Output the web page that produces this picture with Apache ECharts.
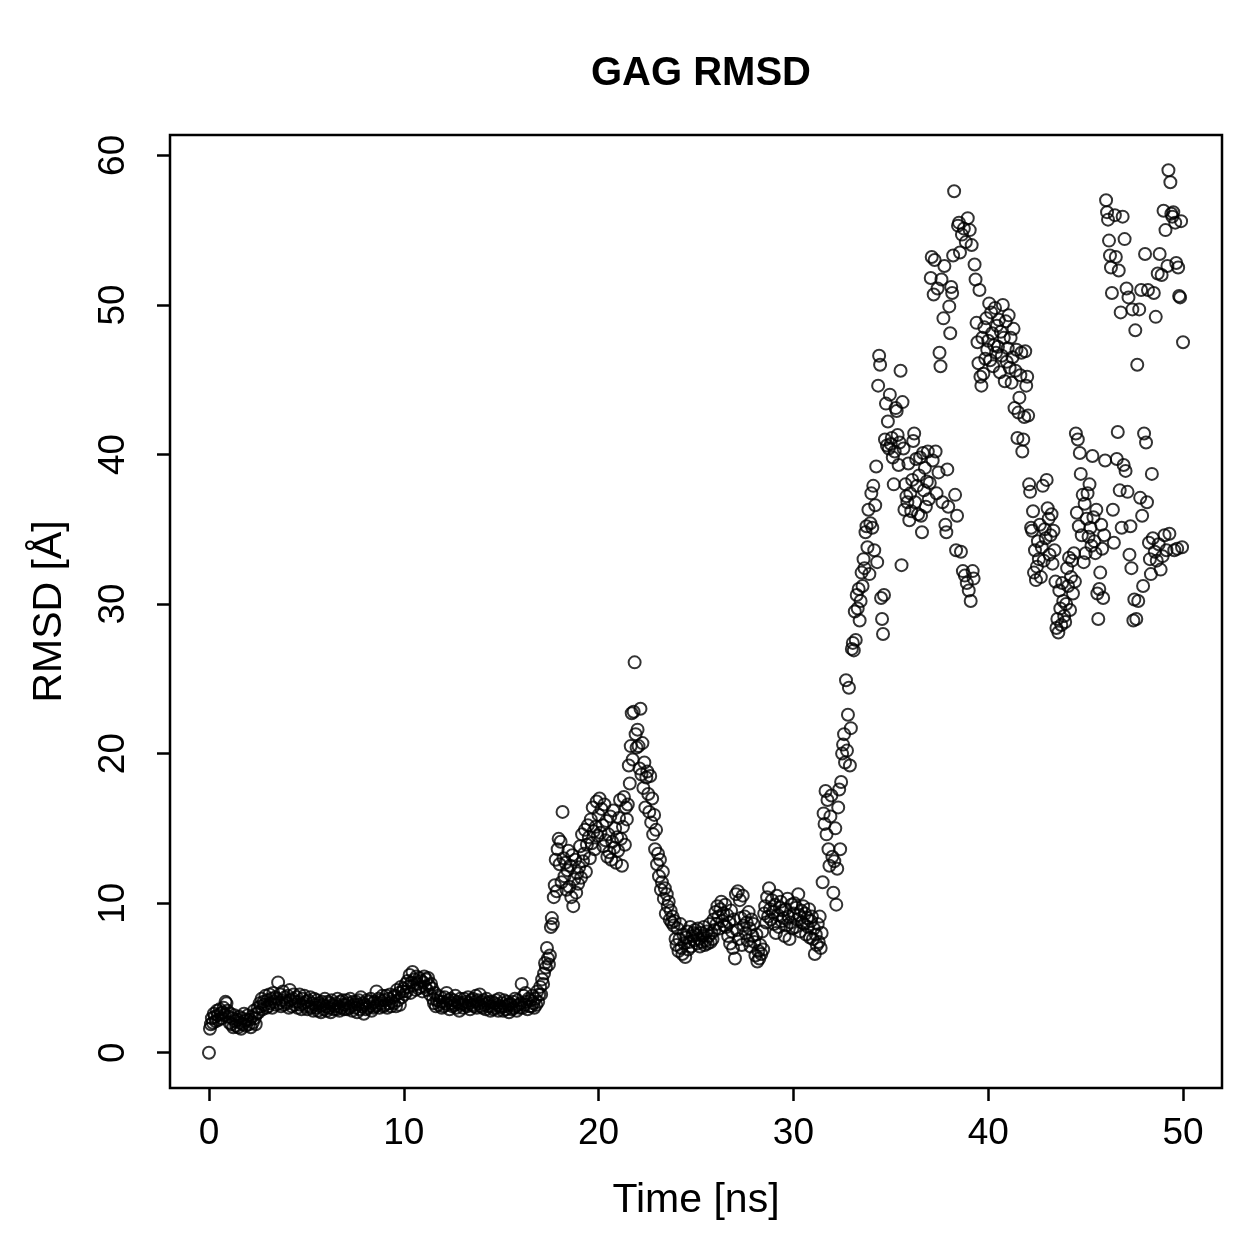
<!DOCTYPE html>
<html>
<head>
<meta charset="utf-8">
<script src="https://cdn.jsdelivr.net/npm/echarts@6/dist/echarts.min.js"></script>
<style>
  html, body { margin: 0; padding: 0; background: #fff; }
  #main { width: 1259px; height: 1259px; }
</style>
</head>
<body>
<div id="main"></div>
<script>
// RMSD values, one every 0.05 ns
var dt = 0.05;
var rmsd0 = [
  0.0, 1.6, 1.9, 2.3, 2.0, 2.6, 2.4, 2.1, 2.8, 2.5,
  2.2, 2.9, 2.6, 2.3, 2.7, 3.0, 2.5, 3.4, 3.3, 2.8,
  2.4, 2.0, 2.6, 1.9, 2.3, 1.7, 2.5, 2.1, 1.8, 2.2,
  1.7, 2.4, 2.0, 1.6, 2.3, 1.9, 2.6, 2.1, 1.8, 2.2,
  2.5, 1.9, 2.2, 1.7, 2.4, 2.0, 2.8, 2.3, 1.9, 2.6,
  3.0, 2.7, 3.3, 3.1, 3.6, 2.9, 3.4, 3.2, 3.8, 3.0,
  3.5, 3.1, 3.9, 3.3, 3.6, 3.0, 4.0, 3.4, 3.7, 3.2,
  3.6, 4.7, 3.3, 3.9, 3.1, 3.5, 4.1, 3.2, 3.7, 3.4,
  3.3, 3.8, 3.0, 4.2, 3.5, 3.1, 3.6, 3.9, 3.2, 3.4,
  3.7, 3.0, 3.4, 3.9, 3.2, 2.9, 3.6, 3.3, 3.8, 3.1,
  3.4, 2.9, 3.5, 3.1, 3.7, 3.0, 3.3, 2.8, 3.6, 3.2,
  3.0, 3.5, 2.8, 3.3, 3.1, 2.7, 3.4, 3.2, 2.9, 3.6,
  3.1, 2.8, 3.4, 3.0, 3.3, 2.7, 3.5, 3.2, 2.9, 3.1,
  3.3, 2.9, 3.6, 3.1, 2.8, 3.4, 3.0, 3.5, 3.2, 2.9,
  3.2, 3.5, 2.9, 3.3, 3.0, 3.6, 3.1, 2.8, 3.4, 3.2,
  3.0, 3.4, 2.7, 3.2, 3.5, 2.9, 3.7, 3.1, 3.3, 2.6,
  3.2, 2.9, 3.5, 3.0, 3.4, 3.1, 3.6, 2.8, 3.3, 3.0,
  3.4, 3.1, 4.1, 3.2, 3.6, 3.0, 3.5, 3.3, 3.8, 3.1,
  3.5, 3.2, 3.8, 3.0, 3.6, 3.3, 3.9, 3.1, 3.4, 3.7,
  3.3, 3.8, 3.1, 4.2, 3.5, 4.0, 3.2, 4.4, 3.7, 4.1
];
var rmsd10 = [
  4.3, 3.9, 4.6, 4.1, 4.8, 4.4, 5.2, 4.0, 4.7, 5.4,
  4.5, 4.9, 4.2, 5.1, 4.6, 4.3, 5.0, 4.4, 4.8, 4.1,
  4.7, 5.1, 4.4, 4.9, 4.2, 5.0, 4.5, 3.9, 4.6, 4.3,
  3.6, 3.3, 4.0, 3.1, 3.5, 3.8, 3.2, 3.4, 3.7, 3.0,
  3.4, 3.1, 3.7, 3.3, 4.0, 3.2, 3.5, 2.9, 3.6, 3.3,
  3.1, 3.5, 3.2, 3.8, 3.0, 3.4, 3.3, 2.8, 3.6, 3.2,
  3.3, 3.0, 3.6, 3.2, 3.4, 3.1, 3.7, 3.3, 2.9, 3.5,
  3.2, 3.6, 3.1, 3.4, 3.8, 3.0, 3.5, 3.3, 3.9, 3.1,
  3.4, 3.0, 3.5, 3.2, 2.9, 3.6, 3.3, 3.1, 3.4, 2.8,
  3.1, 3.4, 2.9, 3.3, 3.0, 3.5, 3.2, 2.8, 3.6, 3.1,
  3.0, 3.3, 2.8, 3.5, 3.1, 2.9, 3.4, 3.2, 2.7, 3.3,
  3.2, 2.9, 3.4, 3.0, 3.6, 3.1, 2.8, 3.5, 3.2, 3.0,
  3.3, 4.6, 3.0, 3.8, 3.2, 4.0, 3.4, 2.9, 3.6, 3.1,
  3.5, 3.1, 3.8, 3.3, 3.0, 3.6, 3.2, 4.1, 3.4, 3.9,
  4.4, 3.9, 4.9, 4.6, 5.3, 6.0, 5.7, 7.0, 6.3, 5.9,
  6.5, 8.4, 9.0, 8.6, 10.4, 11.2, 12.9, 10.8, 13.6, 14.3,
  12.6, 14.1, 11.4, 16.1, 13.0, 11.8, 12.7, 10.9, 12.2, 13.5,
  11.1, 12.5, 10.4, 13.2, 9.8, 11.6, 12.9, 10.7, 12.0, 11.3,
  12.4, 13.8, 11.7, 14.6, 12.8, 13.3, 14.9, 12.1, 13.9, 15.2,
  14.4, 13.0, 15.6, 14.0, 16.4, 14.8, 13.6, 15.1, 16.8, 14.5
];
var rmsd20 = [
  15.9, 17.0, 14.7, 16.3, 15.2, 13.8, 16.6, 14.2, 15.5, 13.1,
  14.6, 13.4, 15.8, 12.9, 14.1, 16.2, 13.7, 15.0, 12.7, 14.4,
  13.5, 15.7, 16.9, 14.3, 12.5, 15.1, 17.1, 13.9, 16.4, 15.6,
  16.6, 19.2, 18.0, 20.5, 22.7, 19.6, 22.8, 26.1, 21.3, 20.4,
  21.6, 20.5, 19.0, 23.0, 18.6, 20.7, 17.7, 19.4, 16.4, 18.4,
  18.8, 17.3, 16.1, 18.5, 15.4, 17.0, 14.6, 15.9, 13.6, 14.9,
  12.6, 13.3, 11.8, 12.9, 10.9, 11.4, 12.1, 10.3, 11.0, 9.3,
  10.6, 9.8, 10.1, 8.9, 9.5, 8.7, 9.1, 8.5, 8.8, 7.6,
  7.2, 8.3, 6.8, 7.6, 8.6, 7.0, 6.6, 7.9, 7.3, 6.4,
  7.7, 8.1, 6.9, 7.4, 8.4, 7.1, 7.8, 8.0, 7.5, 8.2,
  7.9, 7.3, 8.3, 7.6, 7.1, 8.0, 7.4, 7.8, 8.4, 7.2,
  7.5, 8.1, 7.3, 7.8, 8.6, 7.4, 8.0, 7.6, 8.9, 8.2,
  9.4, 8.6, 9.8, 9.1, 8.3, 9.6, 10.1, 8.8, 9.3, 8.5,
  9.9, 8.4, 9.2, 7.8, 8.7, 7.3, 9.5, 8.1, 7.0, 8.9,
  6.3, 10.6, 8.2, 10.8, 7.6, 10.2, 9.0, 7.2, 10.5, 8.5,
  9.1, 8.0, 8.7, 7.5, 9.4, 8.3, 7.1, 8.9, 7.8, 8.6,
  7.4, 6.5, 7.9, 6.1, 6.8, 6.3, 7.2, 6.6, 8.1, 6.9,
  9.3, 9.8, 8.7, 10.4, 9.1, 11.0, 9.6, 8.9, 10.2, 9.4,
  8.6, 9.9, 8.0, 10.5, 9.2, 8.4, 9.7, 10.1, 8.8, 9.5,
  9.0, 7.8, 9.6, 8.5, 10.3, 9.1, 7.6, 8.7, 9.9, 8.3
];
var rmsd30 = [
  9.3, 10.0, 8.4, 9.7, 8.9, 10.6, 9.2, 8.1, 9.5, 8.7,
  9.8, 8.6, 9.3, 7.9, 9.0, 8.4, 9.6, 7.7, 8.8, 9.1,
  7.6, 8.3, 6.6, 7.9, 7.2, 8.6, 7.4, 9.1, 7.0, 8.0,
  11.4, 16.0, 15.3, 17.5, 14.6, 16.9, 13.6, 12.5, 15.8, 17.2,
  13.1, 10.7, 12.8, 15.0, 9.9, 12.3, 16.4, 17.6, 13.6, 18.1,
  20.0, 20.6, 21.3, 19.4, 24.9, 20.2, 22.6, 24.4, 19.2, 21.7,
  27.0, 27.4, 26.9, 29.5, 27.6, 30.6, 29.7, 31.0, 28.9, 30.2,
  32.1, 31.2, 33.0, 32.4, 34.8, 35.2, 33.8, 36.3, 32.0, 35.4,
  37.4, 35.1, 37.9, 33.6, 36.6, 39.2, 32.8, 44.6, 46.6, 46.0,
  30.4, 29.0, 28.0, 30.6, 41.0, 43.4, 40.6, 42.2, 40.4, 44.0,
  40.7, 41.1, 39.8, 38.0, 40.2, 43.1, 42.9, 41.3, 39.3, 40.8,
  45.6, 32.6, 43.5, 40.4, 36.3, 38.0, 37.2, 36.8, 39.4, 35.6,
  37.4, 36.2, 38.3, 40.9, 41.4, 36.8, 39.7, 37.9, 36.0, 38.6,
  39.8, 35.9, 34.8, 40.1, 37.6, 39.1, 36.5, 38.2, 40.2, 37.0,
  38.1, 51.8, 53.2, 39.6, 50.7, 53.0, 40.2, 37.4, 51.1, 38.8,
  46.8, 45.9, 51.7, 36.8, 49.1, 52.6, 35.3, 34.8, 39.0, 36.5,
  49.9, 48.1, 51.2, 50.8, 53.3, 57.6, 37.3, 33.6, 35.9, 55.3,
  55.5, 53.5, 33.5, 54.7, 32.2, 55.1, 31.9, 54.2, 31.4, 55.8,
  30.9, 55.0, 30.2, 54.0, 32.2, 31.7, 52.7, 51.7, 48.8, 47.5,
  46.1, 51.0, 45.2, 44.6, 47.8, 45.4, 48.5, 46.4, 49.1, 47.0
];
var rmsd40 = [
  47.6, 50.1, 46.3, 49.5, 48.1, 45.9, 47.3, 49.8, 46.8, 48.6,
  47.2, 49.0, 45.5, 48.2, 46.6, 50.0, 47.8, 44.9, 48.9, 46.2,
  47.1, 49.3, 45.8, 47.8, 44.8, 46.5, 48.4, 43.1, 45.6, 47.0,
  41.1, 42.8, 43.8, 45.3, 46.8, 40.2, 41.0, 42.5, 46.9, 44.6,
  45.2, 42.6, 38.0, 37.5, 35.1, 34.9, 36.2, 32.1, 33.6, 31.6,
  32.5, 34.2, 33.0, 35.3, 31.8, 33.8, 37.9, 32.9, 35.0, 34.4,
  38.3, 36.4, 35.7, 33.3, 34.6, 36.0, 32.7, 34.9, 33.6, 31.5,
  28.4, 29.0, 28.1, 30.9, 29.7, 28.6, 31.4, 30.2, 29.2, 28.8,
  30.0, 32.4, 31.2, 33.1, 29.6, 31.8, 32.9, 30.7, 33.4, 31.5,
  41.4, 36.1, 41.0, 35.2, 40.1, 38.7, 34.6, 37.3, 32.8, 36.7,
  33.4, 35.7, 37.4, 34.5, 38.0, 35.1, 33.9, 39.9, 35.8, 34.2,
  33.4, 36.3, 30.7, 29.0, 31.0, 32.1, 35.3, 33.7, 30.4, 34.6,
  39.6, 57.0, 56.2, 55.7, 54.3, 53.3, 52.5, 50.8, 36.3, 34.1,
  56.0, 53.2, 39.7, 41.5, 52.3, 37.6, 49.5, 35.1, 55.9, 39.3,
  54.4, 38.9, 51.1, 37.5, 50.5, 33.3, 35.2, 32.4, 49.7, 28.9,
  30.3, 48.3, 29.0, 46.0, 30.2, 49.7, 37.1, 51.0, 35.9, 31.2,
  41.4, 53.4, 40.8, 36.8, 51.0, 34.1, 33.0, 32.0, 38.7, 34.4,
  50.8, 33.5, 49.2, 32.9, 52.1, 34.0, 53.4, 32.3, 52.0, 33.2,
  56.3, 34.6, 55.0, 33.6, 52.6, 59.0, 34.7, 58.2, 56.1, 55.9,
  56.2, 33.6, 55.5, 52.8, 33.7, 52.5, 50.6, 50.5, 55.6, 33.8,
  47.5
];
var xTicks = [0, 10, 20, 30, 40, 50];
var yTicks = [0, 10, 20, 30, 40, 50, 60];

var rmsd = [].concat(rmsd0, rmsd10, rmsd20, rmsd30, rmsd40);
var points = [];
for (var i = 0; i < rmsd.length; i++) {
  points.push([Math.round(i * dt * 100) / 100, rmsd[i]]);
}

var chartDom = document.getElementById('main');
var myChart = echarts.init(chartDom);
var font = 'Liberation Sans, Arial, Helvetica, sans-serif';

var option = {
  backgroundColor: '#fff',
  animation: false,
  title: {
    text: 'GAG RMSD',
    left: 696,
    top: 49,
    textAlign: 'center',
    textStyle: { fontFamily: font, fontSize: 40, fontWeight: 'bold', color: '#000' }
  },
  grid: {
    left: 170, right: 37, top: 135, bottom: 171,
    show: true, borderColor: '#000', borderWidth: 2.5, backgroundColor: 'transparent'
  },
  xAxis: {
    type: 'value', min: -2, max: 52,
    name: 'Time [ns]', nameLocation: 'middle', nameGap: 92,
    nameTextStyle: { fontFamily: font, fontSize: 41, color: '#000' },
    axisLine: { show: false, onZero: false },
    axisTick: { show: true, length: 13, customValues: xTicks, lineStyle: { color: '#000', width: 2.5 } },
    axisLabel: { customValues: xTicks, margin: 27, fontFamily: font, fontSize: 37, color: '#000' },
    splitLine: { show: false }
  },
  yAxis: {
    type: 'value', min: -2.36, max: 61.36,
    name: 'RMSD [Å]', nameLocation: 'middle', nameGap: 100, nameRotate: 90,
    nameTextStyle: { fontFamily: font, fontSize: 41, color: '#000' },
    axisLine: { show: false, onZero: false },
    axisTick: { show: true, length: 13, customValues: yTicks, lineStyle: { color: '#000', width: 2.5 } },
    axisLabel: { customValues: yTicks, rotate: 90, margin: 38, fontFamily: font, fontSize: 37, color: '#000' },
    splitLine: { show: false }
  },
  series: [{
    type: 'scatter',
    data: points,
    symbol: 'circle',
    symbolSize: 12,
    itemStyle: { color: 'transparent', borderColor: '#000', borderWidth: 2 }
  }]
};
option && myChart.setOption(option);
</script>
</body>
</html>
